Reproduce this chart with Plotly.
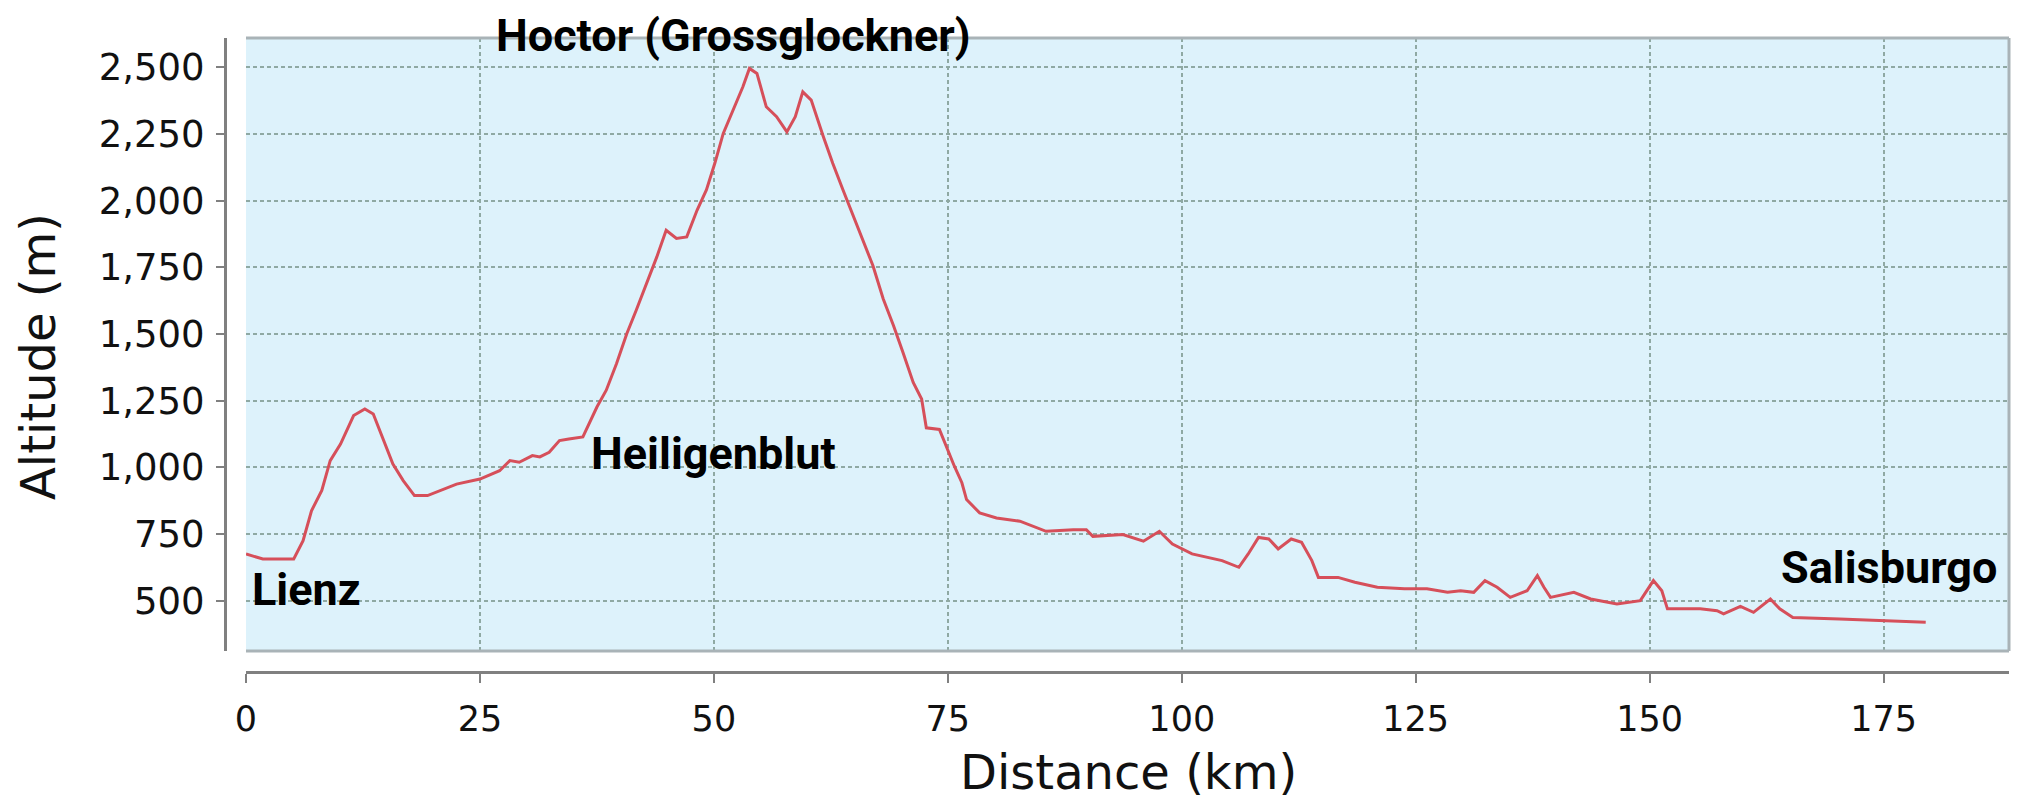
import plotly.graph_objects as go

# ---- data ----
distance_km = [0.0, 1.8, 5.1, 6.1, 7.0, 8.1, 9.0, 10.1, 11.5, 12.7, 13.6, 14.7, 15.7, 16.8,
               18.0, 19.4, 20.7, 22.5, 25.0, 27.1, 28.2, 29.2, 30.6, 31.4, 32.4, 33.5, 34.5,
               36.0, 37.5, 38.5, 39.6, 40.7, 41.7, 42.8, 43.9, 44.9, 46.0, 47.1, 48.2, 49.2,
               50.1, 51.0, 52.1, 53.1, 53.8, 54.6, 55.6, 56.7, 57.8, 58.7, 59.5, 60.4, 61.7,
               62.7, 63.8, 64.9, 66.0, 67.0, 68.1, 69.2, 70.2, 71.3, 72.2, 72.7, 74.1, 74.8,
               75.7, 76.5, 77.0, 78.4, 80.2, 82.7, 84.1, 85.5, 88.4, 89.8, 90.5, 93.7, 95.9,
               97.6, 99.0, 101.1, 104.3, 106.1, 107.1, 108.2, 109.3, 110.3, 111.7, 112.8,
               113.9, 114.6, 116.7, 118.5, 120.9, 123.8, 126.2, 128.4, 129.8, 131.2, 132.4,
               133.7, 135.1, 136.9, 138.0, 138.7, 139.4, 141.9, 143.7, 146.5, 149.0, 150.4,
               151.3, 151.9, 155.4, 157.2, 157.9, 159.7, 161.1, 162.9, 163.9, 165.3, 170.3,
               174.9, 179.5]
altitude_m = [675, 656, 656, 725, 837, 913, 1025, 1087, 1194, 1219, 1200, 1100, 1012, 950,
              894, 894, 912, 937, 956, 987, 1025, 1019, 1044, 1039, 1056, 1100, 1106,
              1114, 1226, 1289, 1389, 1502, 1589, 1689, 1789, 1889, 1858, 1864, 1964, 2040,
              2140, 2252, 2340, 2427, 2496, 2477, 2352, 2315, 2258, 2315, 2408, 2377, 2240,
              2140, 2040, 1940, 1840, 1756, 1631, 1531, 1431, 1318, 1256, 1148, 1142, 1079,
              1004, 942, 879, 829, 810, 798, 779, 760, 766, 766, 741, 748, 723,
              760, 712, 675, 650, 625, 675, 737, 731, 694, 731, 719,
              650, 587, 587, 569, 550, 544, 544, 531, 537, 531, 575,
              550, 512, 537, 594, 550, 512, 531, 506, 487, 500, 575,
              537, 469, 469, 462, 450, 478, 456, 506, 469, 437, 431,
              425, 419]

x_ticks = [0, 25, 50, 75, 100, 125, 150, 175]
y_ticks = [500, 750, 1000, 1250, 1500, 1750, 2000, 2250, 2500]

place_names = ["Hoctor (Grossglockner)", "Lienz", "Heiligenblut", "Salisburgo"]
place_km = [26.6, 0.0, 36.8, 163.9]
place_alt = [2621, 540, 1053, 625]
place_xshift = [0, 5, 0, 0]

x_title = "Distance (km)"
y_title = "Altitude (m)"

# ---- figure (page has an 8px body margin, so everything is shifted by 8) ----
OFF = 8
W, H = 2024 - OFF, 801 - OFF
x_axis_y = 672 - OFF          # x-axis line position in figure px
y_axis_x = 225 - OFF          # y-axis line position in figure px
plot_left = 246 - OFF
plot_right = 2009 - OFF
plot_top = 38 - OFF
plot_bottom = 651 - OFF

ml, mt = y_axis_x, plot_top
mr, mb = W - plot_right, H - x_axis_y
pw, ph = W - ml - mr, H - mt - mb
x_range = [0, 188.4]
y_range = [311, 2610]

grid_col = "#8fa9a3"
axis_col = "#808080"
title_font = dict(family="DejaVu Sans", size=48, color="#111111")

fig = go.Figure()
fig.add_trace(go.Scatter(
    x=distance_km, y=altitude_m, mode="lines",
    line=dict(color="#d64f5a", width=3),
    hoverinfo="x+y", showlegend=False,
))

for name, xk, ya, xs in zip(place_names, place_km, place_alt, place_xshift):
    inside = y_range[0] <= ya <= y_range[1]
    fig.add_annotation(
        x=xk, xref="x", xshift=xs,
        y=ya if inside else (ya - y_range[0]) / (y_range[1] - y_range[0]),
        yref="y" if inside else "y domain",
        text=name, showarrow=False,
        xanchor="left", yanchor="middle", borderpad=0,
        font=dict(family="Roboto", size=45, color="#000000", weight="bold"),
    )

# axis titles
fig.add_annotation(x=(1128 - OFF - ml) / pw, y=(x_axis_y - (772 - OFF)) / ph,
                   xref="paper", yref="paper",
                   text=x_title, showarrow=False, xanchor="center", yanchor="middle",
                   borderpad=0, font=title_font)
fig.add_annotation(x=(38 - OFF - ml) / pw, y=(x_axis_y - (357 - OFF)) / ph,
                   xref="paper", yref="paper",
                   text=y_title, showarrow=False, xanchor="center", yanchor="middle",
                   textangle=-90, borderpad=0, font=title_font)

# plot frame (top, right, bottom)
frame = dict(color="#a9b3b7", width=3)
fig.add_shape(type="line", xref="x domain", yref="y domain", x0=0, x1=1, y0=1, y1=1, line=frame)
fig.add_shape(type="line", xref="x domain", yref="y domain", x0=1, x1=1, y0=0, y1=1, line=frame)
fig.add_shape(type="line", xref="x domain", yref="y domain", x0=0, x1=1, y0=0, y1=0, line=frame)

fig.update_layout(
    width=W, height=H,
    margin=dict(l=ml, r=mr, t=mt, b=mb, pad=0, autoexpand=False),
    paper_bgcolor="#ffffff",
    plot_bgcolor="#ddf2fb",
    xaxis=dict(
        domain=[(plot_left - ml) / pw, 1.0],
        anchor="free", position=0.0, automargin=False,
        range=x_range,
        tickvals=x_ticks, ticktext=[str(v) for v in x_ticks],
        showgrid=True, gridcolor=grid_col, gridwidth=1.5, griddash="4px,3px",
        zeroline=False,
        showline=True, linecolor=axis_col, linewidth=3,
        ticks="outside", ticklen=9, tickwidth=2, tickcolor=axis_col,
        ticklabelstandoff=6,
        tickfont=dict(family="DejaVu Sans", size=35, color="#111111"),
    ),
    yaxis=dict(
        domain=[(x_axis_y - plot_bottom) / ph, 1.0],
        anchor="free", position=0.0, automargin=False,
        range=y_range,
        tickvals=y_ticks, ticktext=[f"{v:,}" for v in y_ticks],
        showgrid=True, gridcolor=grid_col, gridwidth=1.5, griddash="4px,3px",
        zeroline=False,
        showline=True, linecolor=axis_col, linewidth=3,
        ticks="outside", ticklen=8, tickwidth=2, tickcolor=axis_col,
        ticklabelstandoff=4,
        tickfont=dict(family="DejaVu Sans", size=37, color="#111111"),
    ),
)

fig.write_html("out.html")
